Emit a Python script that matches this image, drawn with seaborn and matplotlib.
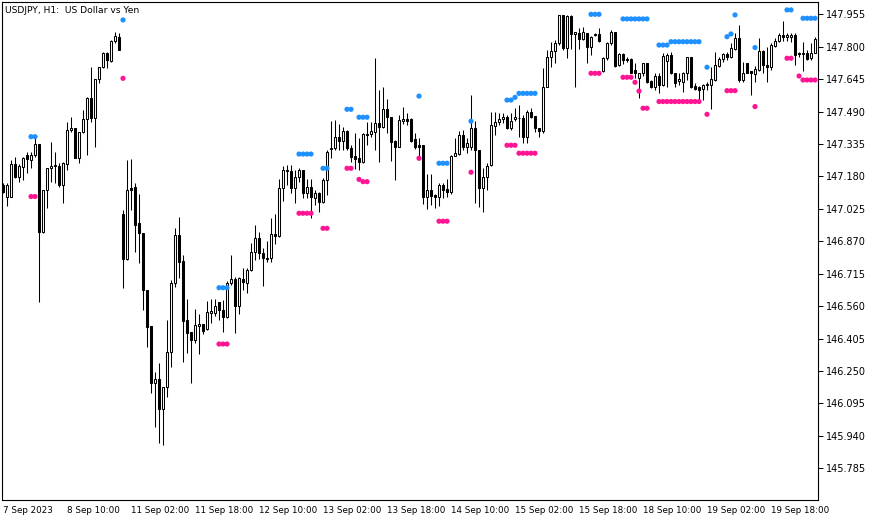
import matplotlib
matplotlib.use("Agg")
import matplotlib.pyplot as plt
import pandas as pd
import seaborn as sns

# USDJPY H1 candles, 7 Sep 2023 18:00 .. 20 Sep 2023 05:00 (bar index = position on chart)
opens = [
    147.139, 147.084, 147.084, 147.240, 147.179, 147.227, 147.283, 147.259, 147.283, 147.335,
    146.916, 147.115, 147.219, 147.232, 147.232, 147.139, 147.238, 147.402, 147.410, 147.270,
    147.391, 147.455, 147.553, 147.461, 147.644, 147.705, 147.772, 147.733, 147.826, 147.848,
    146.999, 146.784, 147.123, 147.128, 146.956, 146.911, 146.637, 146.465, 146.195, 146.210,
    146.067, 146.175, 146.341, 146.669, 146.900, 146.776, 146.494, 146.435, 146.398, 146.465,
    146.475, 146.449, 146.529, 146.529, 146.578, 146.542, 146.510, 146.669, 146.688, 146.562,
    146.688, 146.669, 146.733, 146.817, 146.884, 146.813, 146.792, 146.789, 146.903, 146.897,
    147.123, 147.211, 147.206, 147.123, 147.176, 147.211, 147.099, 147.128, 147.075, 147.099,
    147.056, 147.163, 147.310, 147.314, 147.367, 147.351, 147.397, 147.314, 147.278, 147.267,
    147.251, 147.383, 147.381, 147.394, 147.434, 147.418, 147.501, 147.463, 147.351, 147.322,
    147.447, 147.453, 147.453, 147.357, 147.330, 147.330, 147.083, 147.115, 147.091, 147.083,
    147.139, 147.118, 147.107, 147.279, 147.287, 147.378, 147.322, 147.322, 147.410, 147.306,
    147.123, 147.176, 147.235, 147.423, 147.439, 147.453, 147.466, 147.410, 147.453, 147.458,
    147.458, 147.370, 147.487, 147.469, 147.410, 147.399, 147.606, 147.753, 147.780, 147.820,
    147.950, 147.792, 147.947, 147.859, 147.864, 147.835, 147.864, 147.797, 147.856, 147.861,
    147.686, 147.745, 147.816, 147.869, 147.713, 147.764, 147.740, 147.740, 147.689, 147.652,
    147.673, 147.721, 147.638, 147.609, 147.660, 147.617, 147.733, 147.761, 147.676, 147.638,
    147.633, 147.673, 147.749, 147.612, 147.609, 147.596, 147.617, 147.617, 147.641, 147.710,
    147.740, 147.765, 147.749, 147.788, 147.840, 147.641, 147.721, 147.686, 147.670, 147.689,
    147.781, 147.713, 147.705, 147.805, 147.829, 147.858, 147.845, 147.845, 147.858, 147.772,
    147.765, 147.772, 147.745, 147.772,
]
highs = [
    147.150, 147.147, 147.259, 147.271, 147.240, 147.271, 147.299, 147.299, 147.362, 147.335,
    147.115, 147.219, 147.346, 147.299, 147.243, 147.248, 147.442, 147.463, 147.413, 147.394,
    147.498, 147.561, 147.705, 147.644, 147.705, 147.776, 147.776, 147.832, 147.869, 147.864,
    147.020, 147.259, 147.262, 147.147, 147.096, 146.911, 146.637, 146.465, 146.247, 146.287,
    146.175, 146.494, 146.685, 146.932, 146.988, 146.805, 146.594, 146.435, 146.546, 146.523,
    146.475, 146.585, 146.593, 146.593, 146.582, 146.590, 146.682, 146.805, 146.701, 146.701,
    146.741, 146.741, 146.860, 146.948, 146.916, 146.836, 146.873, 146.980, 147.001, 147.166,
    147.230, 147.235, 147.235, 147.211, 147.219, 147.211, 147.166, 147.166, 147.115, 147.107,
    147.171, 147.306, 147.447, 147.450, 147.431, 147.415, 147.402, 147.330, 147.386, 147.362,
    147.386, 147.442, 147.442, 147.745, 147.593, 147.609, 147.549, 147.466, 147.354, 147.474,
    147.510, 147.485, 147.458, 147.386, 147.362, 147.330, 147.192, 147.192, 147.096, 147.150,
    147.147, 147.166, 147.283, 147.362, 147.399, 147.402, 147.362, 147.569, 147.447, 147.306,
    147.219, 147.243, 147.490, 147.490, 147.482, 147.485, 147.474, 147.485, 147.506, 147.522,
    147.474, 147.498, 147.506, 147.469, 147.410, 147.697, 147.784, 147.824, 147.832, 147.950,
    147.950, 147.950, 147.950, 147.869, 147.888, 147.893, 147.867, 147.851, 147.867, 147.888,
    147.749, 147.824, 147.880, 147.872, 147.768, 147.768, 147.749, 147.745, 147.721, 147.676,
    147.724, 147.724, 147.641, 147.673, 147.673, 147.772, 147.772, 147.776, 147.676, 147.676,
    147.681, 147.753, 147.753, 147.625, 147.612, 147.622, 147.633, 147.705, 147.776, 147.749,
    147.772, 147.776, 147.816, 147.864, 147.904, 147.729, 147.724, 147.686, 147.708, 147.840,
    147.784, 147.800, 147.816, 147.840, 147.864, 147.925, 147.867, 147.864, 147.864, 147.776,
    147.824, 147.784, 147.816, 147.848,
]
lows = [
    147.099, 147.039, 147.080, 147.171, 147.155, 147.163, 147.195, 147.219, 147.275, 146.582,
    146.908, 147.028, 147.155, 147.147, 147.131, 147.052, 147.211, 147.394, 147.267, 147.243,
    147.386, 147.283, 147.442, 147.322, 147.625, 147.697, 147.697, 147.729, 147.820, 147.784,
    146.645, 146.781, 147.020, 146.821, 146.765, 146.542, 146.367, 146.144, 145.984, 145.905,
    145.897, 146.128, 146.268, 146.653, 146.693, 146.292, 146.335, 146.194, 146.386, 146.331,
    146.427, 146.446, 146.478, 146.515, 146.494, 146.438, 146.505, 146.661, 146.434, 146.521,
    146.637, 146.621, 146.730, 146.781, 146.784, 146.658, 146.773, 146.773, 146.857, 146.892,
    147.064, 147.139, 147.103, 147.055, 147.152, 147.075, 147.075, 146.980, 147.044, 147.012,
    147.052, 147.091, 147.267, 147.306, 147.306, 147.306, 147.306, 147.251, 147.216, 147.211,
    147.243, 147.330, 147.370, 147.306, 147.251, 147.410, 147.386, 147.254, 147.163, 147.319,
    147.431, 147.426, 147.346, 147.310, 147.259, 147.048, 147.023, 147.044, 147.028, 147.039,
    147.075, 147.083, 147.096, 147.278, 147.283, 147.306, 147.291, 147.306, 147.052, 147.036,
    147.012, 147.115, 147.230, 147.378, 147.426, 147.437, 147.405, 147.402, 147.447, 147.367,
    147.338, 147.342, 147.458, 147.394, 147.367, 147.389, 147.606, 147.705, 147.721, 147.808,
    147.784, 147.745, 147.788, 147.606, 147.788, 147.832, 147.721, 147.761, 147.851, 147.824,
    147.681, 147.737, 147.808, 147.705, 147.710, 147.718, 147.729, 147.673, 147.649, 147.553,
    147.660, 147.625, 147.601, 147.593, 147.577, 147.612, 147.606, 147.670, 147.606, 147.617,
    147.585, 147.641, 147.601, 147.593, 147.545, 147.545, 147.593, 147.501, 147.638, 147.705,
    147.729, 147.737, 147.745, 147.784, 147.633, 147.633, 147.673, 147.569, 147.633, 147.686,
    147.673, 147.633, 147.689, 147.800, 147.824, 147.829, 147.829, 147.824, 147.713, 147.753,
    147.686, 147.737, 147.737, 147.768,
]
closes = [
    147.107, 147.139, 147.240, 147.176, 147.230, 147.267, 147.262, 147.283, 147.335, 146.916,
    147.115, 147.219, 147.232, 147.233, 147.139, 147.243, 147.402, 147.410, 147.270, 147.391,
    147.455, 147.553, 147.458, 147.644, 147.705, 147.772, 147.737, 147.826, 147.851, 147.784,
    146.784, 147.115, 147.115, 146.948, 146.911, 146.637, 146.462, 146.195, 146.210, 146.067,
    146.172, 146.341, 146.669, 146.900, 146.773, 146.491, 146.433, 146.398, 146.470, 146.475,
    146.443, 146.534, 146.537, 146.561, 146.542, 146.510, 146.669, 146.688, 146.561, 146.693,
    146.677, 146.733, 146.817, 146.884, 146.813, 146.789, 146.787, 146.903, 146.897, 147.123,
    147.211, 147.206, 147.123, 147.176, 147.211, 147.099, 147.128, 147.080, 147.099, 147.056,
    147.163, 147.299, 147.314, 147.367, 147.351, 147.397, 147.314, 147.275, 147.262, 147.251,
    147.383, 147.378, 147.397, 147.434, 147.418, 147.501, 147.463, 147.346, 147.322, 147.450,
    147.453, 147.447, 147.351, 147.322, 147.322, 147.083, 147.115, 147.088, 147.083, 147.139,
    147.115, 147.107, 147.279, 147.291, 147.378, 147.322, 147.338, 147.410, 147.306, 147.123,
    147.176, 147.232, 147.426, 147.439, 147.455, 147.466, 147.410, 147.447, 147.463, 147.458,
    147.370, 147.487, 147.466, 147.410, 147.399, 147.606, 147.753, 147.780, 147.820, 147.950,
    147.792, 147.947, 147.859, 147.869, 147.835, 147.869, 147.797, 147.848, 147.861, 147.829,
    147.745, 147.816, 147.869, 147.710, 147.764, 147.737, 147.737, 147.676, 147.673, 147.673,
    147.721, 147.633, 147.609, 147.660, 147.617, 147.756, 147.761, 147.673, 147.628, 147.644,
    147.673, 147.749, 147.606, 147.596, 147.593, 147.617, 147.622, 147.644, 147.713, 147.740,
    147.765, 147.749, 147.792, 147.840, 147.641, 147.676, 147.676, 147.673, 147.694, 147.781,
    147.713, 147.705, 147.808, 147.829, 147.858, 147.845, 147.856, 147.858, 147.761, 147.765,
    147.772, 147.740, 147.772, 147.835,
]

# fractal levels: blue above, pink below
up_bars = [7, 8, 30, 54, 55, 56, 74, 75, 76, 77, 80, 81, 86, 87, 89, 90, 91, 104,
           109, 110, 111, 117, 126, 127, 128, 129, 130, 131, 132, 133, 147, 148, 149,
           155, 156, 157, 158, 159, 160, 161, 164, 165, 166, 167, 168, 169, 170, 171,
           172, 173, 174, 176, 181, 182, 183, 188, 196, 197, 200, 201, 202, 203]
up_levels = [147.370, 147.370, 147.928, 146.648, 146.648, 146.648, 147.287, 147.287,
             147.287, 147.287, 147.219, 147.219, 147.501, 147.501, 147.463, 147.463,
             147.463, 147.564, 147.243, 147.243, 147.243, 147.444, 147.545, 147.545,
             147.558, 147.577, 147.577, 147.577, 147.577, 147.577, 147.955, 147.955,
             147.955, 147.933, 147.933, 147.933, 147.933, 147.933, 147.933, 147.933,
             147.808, 147.808, 147.808, 147.824, 147.824, 147.824, 147.824, 147.824,
             147.824, 147.824, 147.824, 147.702, 147.848, 147.861, 147.952, 147.796,
             147.976, 147.976, 147.936, 147.936, 147.936, 147.936]
dn_bars = [7, 8, 30, 54, 55, 56, 74, 75, 76, 77, 80, 81, 86, 87, 89, 90, 91, 104,
           109, 110, 111, 117, 126, 127, 128, 129, 130, 131, 132, 133, 147, 148, 149,
           155, 156, 157, 158, 159, 160, 161, 164, 165, 166, 167, 168, 169, 170, 171,
           172, 173, 174, 176, 181, 182, 183, 188, 196, 197, 199, 200, 201, 202, 203]
dn_levels = [147.084, 147.084, 147.649, 146.379, 146.379, 146.379, 147.004, 147.004,
             147.004, 147.004, 146.932, 146.932, 147.219, 147.219, 147.166, 147.155,
             147.155, 147.267, 146.966, 146.966, 146.966, 147.200, 147.329, 147.329,
             147.329, 147.291, 147.291, 147.291, 147.291, 147.291, 147.673, 147.673,
             147.673, 147.654, 147.654, 147.654, 147.630, 147.588, 147.506, 147.506,
             147.538, 147.538, 147.538, 147.538, 147.538, 147.538, 147.538, 147.538,
             147.538, 147.538, 147.538, 147.477, 147.590, 147.590, 147.590, 147.514,
             147.745, 147.745, 147.660, 147.641, 147.641, 147.641, 147.641]

price_ticks = [145.785, 145.940, 146.095, 146.250, 146.405, 146.560, 146.715, 146.870,
               147.025, 147.180, 147.335, 147.490, 147.645, 147.800, 147.955]
time_tick_bars = [0, 16, 32, 48, 64, 80, 96, 112, 128, 144, 160, 176, 192]
time_tick_labels = ["7 Sep 2023", "8 Sep 10:00", "11 Sep 02:00", "11 Sep 18:00",
                    "12 Sep 10:00", "13 Sep 02:00", "13 Sep 18:00", "14 Sep 10:00",
                    "15 Sep 02:00", "15 Sep 18:00", "18 Sep 10:00", "19 Sep 02:00",
                    "19 Sep 18:00"]

df = pd.DataFrame({"open": opens, "high": highs, "low": lows, "close": closes})
df["bar"] = range(len(df))
df["bull"] = df["close"] >= df["open"]

sns.set_style("white")
plt.rcParams["font.family"] = ["DejaVu Sans"]

fig = plt.figure(figsize=(8.71, 5.22), dpi=100)
ax = fig.add_axes([2 / 871, 22 / 522, 816 / 871, 498 / 522])

# wicks
ax.vlines(df["bar"], df["low"], df["high"], color="black", linewidth=0.75, zorder=1)

# bodies
body_bottom = df[["open", "close"]].min(axis=1)
body_height = (df["close"] - df["open"]).abs()
face = ["white" if b else "black" for b in df["bull"]]
ax.bar(df["bar"], body_height, bottom=body_bottom, width=0.5, color=face,
       edgecolor="black", linewidth=0.75, zorder=2)

up = pd.DataFrame({"bar": up_bars, "level": up_levels})
dn = pd.DataFrame({"bar": dn_bars, "level": dn_levels})
sns.scatterplot(data=up, x="bar", y="level", color="#1e90ff", s=14,
                edgecolor="none", ax=ax, zorder=3)
sns.scatterplot(data=dn, x="bar", y="level", color="#ff1493", s=14,
                edgecolor="none", ax=ax, zorder=3)

ax.set_xlim(-0.25, 203.75)
ax.set_ylim(145.6334, 148.0138)

ax.yaxis.tick_right()
ax.set_yticks(price_ticks)
ax.set_yticklabels([f"{p:.3f}" for p in price_ticks])
ax.set_xticks(time_tick_bars)
ax.set_xticklabels(time_tick_labels)
for lbl in ax.get_xticklabels():
    lbl.set_horizontalalignment("left")
ax.tick_params(axis="both", direction="out", length=3.5, width=0.7, colors="black")
ax.tick_params(axis="x", pad=1, labelsize=6.3)
ax.tick_params(axis="y", pad=2, labelsize=7)
ax.set_xlabel("")
ax.set_ylabel("")
for side in ax.spines.values():
    side.set_color("black")
    side.set_linewidth(0.8)
ax.grid(False)

ax.text(0.004, 0.992, "USDJPY, H1:  US Dollar vs Yen", transform=ax.transAxes,
        ha="left", va="top", fontsize=6.6, color="black")

fig.savefig("out.png", dpi=100, facecolor="white")
plt.close("all")
